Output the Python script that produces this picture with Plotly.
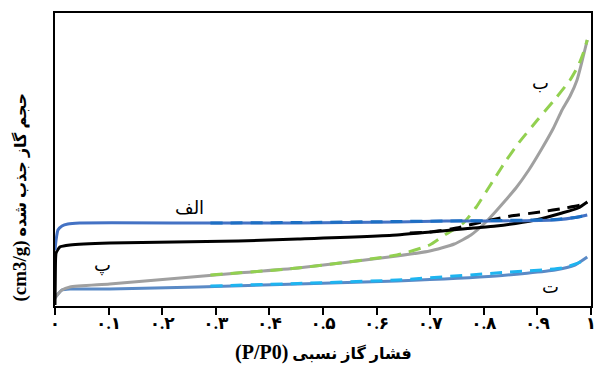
import plotly.graph_objects as go

# Relative pressure tick labels (Persian digits)
tick_vals = [0, 0.1, 0.2, 0.3, 0.4, 0.5, 0.6, 0.7, 0.8, 0.9, 1.0]
tick_text = ["۰", "۰.۱", "۰.۲", "۰.۳", "۰.۴", "۰.۵", "۰.۶", "۰.۷", "۰.۸", "۰.۹", "۱"]

# Sample "الف" (a)
alef_ads_x = [0, 0.002, 0.0055, 0.013, 0.024, 0.046, 0.268, 0.453, 0.638, 0.73, 0.823, 0.933, 0.976, 0.993]
alef_ads_y = [56, 66, 76, 80, 82, 83, 83, 83, 84, 85, 85, 86, 89, 91]
alef_des_x = [0.29, 0.453, 0.638, 0.73, 0.823, 0.933, 0.976, 0.993]
alef_des_y = [83, 83.5, 84.5, 85, 85.5, 86.5, 89, 91]

# Sample "ب" (b)
be_ads_x = [0, 0.0055, 0.013, 0.028, 0.102, 0.342, 0.453, 0.638, 0.699, 0.745, 0.776, 0.804, 0.823,
            0.841, 0.86, 0.884, 0.909, 0.93, 0.946, 0.961, 0.974, 0.983, 0.993]
be_ads_y = [8, 12, 16, 19, 22, 33, 38, 50, 55, 62, 71, 84, 95, 106, 118, 136, 158, 178, 196, 210, 226, 244, 266]
be_des_x = [0.29, 0.453, 0.638, 0.699, 0.73, 0.762, 0.786, 0.804, 0.823, 0.841, 0.865, 0.9, 0.93, 0.961,
            0.976, 0.985, 0.993]
be_des_y = [31, 38, 51, 61, 72, 83, 99, 114, 130, 145, 163, 186, 205, 226, 240, 252, 266]

# Sample "پ" (p)
pe_ads_x = [0, 0.0005, 0.001, 0.002, 0.009, 0.028, 0.102, 0.342, 0.453, 0.638, 0.78, 0.823, 0.896,
            0.946, 0.976, 0.993]
pe_ads_y = [1, 26, 46, 53, 59, 61, 63, 65, 67, 71, 78, 80, 86, 93, 98, 104]
pe_des_x = [0.662, 0.699, 0.749, 0.804, 0.85, 0.906, 0.952, 0.98, 0.993]
pe_des_y = [73, 74, 78, 85, 90, 94, 98, 101, 104]

# Sample "ت" (t)
te_ads_x = [0, 0.0055, 0.013, 0.028, 0.102, 0.268, 0.453, 0.638, 0.823, 0.933, 0.97, 0.993]
te_ads_y = [8, 12, 16, 17, 17, 19, 22, 25, 30, 36, 41, 49]
te_des_x = [0.29, 0.453, 0.638, 0.823, 0.946, 0.98, 0.993]
te_des_y = [20, 22.5, 26, 33, 38, 44, 49]

DASH = "12px,8px"
W = 3
FONT = "Liberation Serif, DejaVu Sans"

fig = go.Figure()

def add(x, y, color, dash=None):
    fig.add_trace(go.Scatter(
        x=x, y=y, mode="lines",
        line=dict(color=color, width=W, dash=dash, shape="spline", smoothing=0.5),
        showlegend=False, hoverinfo="skip"))

add(te_ads_x, te_ads_y, "#5A8AC6")
add(te_des_x, te_des_y, "#1EB4F0", DASH)
add(be_ads_x, be_ads_y, "#A0A0A0")
add(be_des_x, be_des_y, "#92D050", DASH)
add(pe_ads_x, pe_ads_y, "#000000")
add(pe_des_x, pe_des_y, "#000000", DASH)
add(alef_ads_x, alef_ads_y, "#4472C4")
add(alef_des_x, alef_des_y, "#1C6FC4", DASH)

label_font = dict(family=FONT, size=18, color="#000000")
for txt, x, y in [("الف", 0.25, 98), ("ب", 0.906, 223), ("پ", 0.089, 41), ("ت", 0.924, 19)]:
    fig.add_annotation(x=x, y=y, xref="x", yref="y", text=txt, showarrow=False, font=label_font)

title_font = dict(family=FONT, size=16, color="#000000")
fig.add_annotation(x=0.5, y=-0.157, xref="paper", yref="paper",
                   text="<b><span style='font-size:20px'>(P/P0)</span> فشار گاز نسبی</b>",
                   showarrow=False, font=title_font, yanchor="middle")
fig.add_annotation(x=0, y=0.37, xref="paper", yref="paper", xshift=-35,
                   text="<b><span style='font-size:19px'>(cm3/g)</span> حجم گاز جذب شده</b>", textangle=-90,
                   showarrow=False, font=title_font, xanchor="center", yanchor="middle")

fig.update_layout(
    width=598, height=372,
    margin=dict(l=55, r=2, t=13, b=66),
    paper_bgcolor="white", plot_bgcolor="white",
    showlegend=False,
    xaxis=dict(range=[0, 1], tickvals=tick_vals, ticktext=tick_text, ticks="outside",
               ticklen=7, tickwidth=2, tickcolor="black", showgrid=False, zeroline=False,
               showline=True, linecolor="black", linewidth=2, mirror=True, ticklabelstandoff=-6,
               ticklabeloverflow="allow",
               tickfont=dict(family=FONT, size=17, color="black", weight="bold")),
    yaxis=dict(range=[0, 293], showticklabels=False, ticks="", showgrid=False, zeroline=False,
               showline=True, linecolor="black", linewidth=2, mirror=True),
)

fig.write_html("out.html")
